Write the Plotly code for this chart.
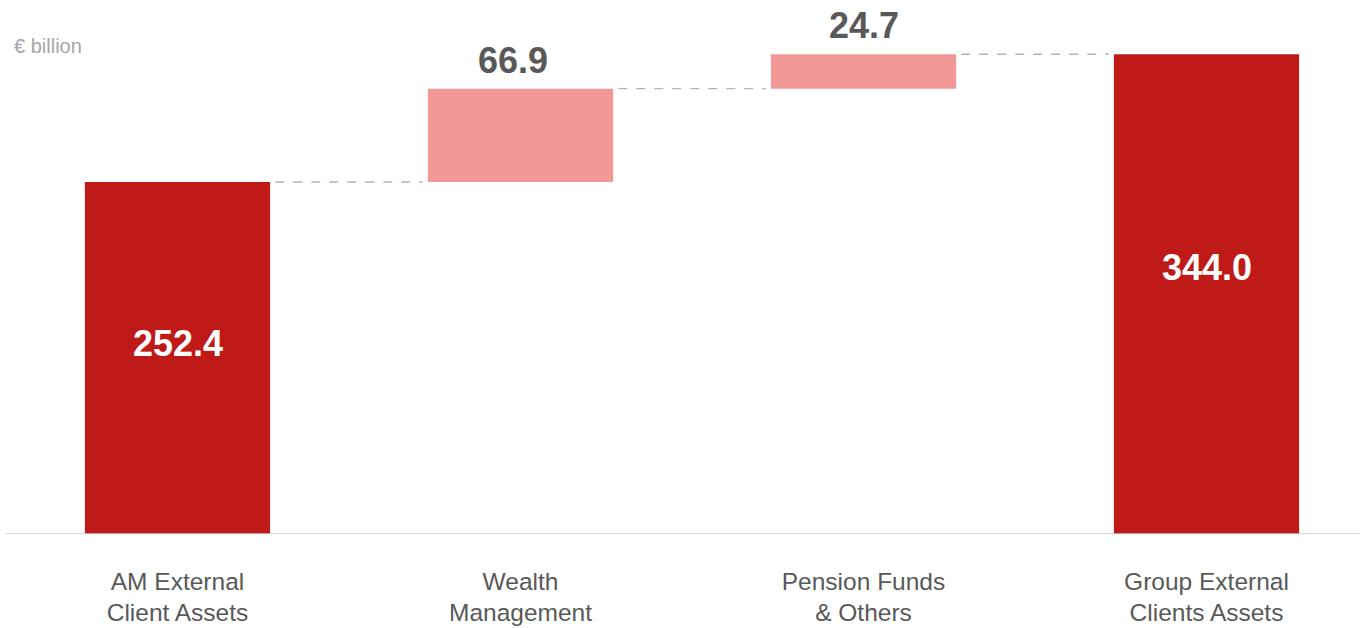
import plotly.graph_objects as go

# Data (€ billion)
categories = ["AM External<br>Client Assets", "Wealth<br>Management",
              "Pension Funds<br>& Others", "Group External<br>Clients Assets"]
values = [252.4, 66.9, 24.7, 344.0]
measures = ["absolute", "relative", "relative", "total"]
labels = ["252.4", "66.9", "24.7", "344.0"]

DARK_RED = "#C01A18"
LIGHT_RED = "#F29997"
TEXT_GREY = "#595959"
FONT = "Liberation Sans, Arial, sans-serif"

BAR_W = 0.54
GAP = 0.015

fig = go.Figure()
fig.add_trace(go.Waterfall(
    x=list(range(len(categories))),
    y=values,
    measure=measures,
    width=BAR_W,
    totals=dict(marker=dict(color=DARK_RED)),
    increasing=dict(marker=dict(color=LIGHT_RED)),
    decreasing=dict(marker=dict(color=LIGHT_RED)),
    connector=dict(visible=False),
    showlegend=False,
    hoverinfo="skip",
))

# running levels for connectors and label placement
levels = []
running = 0.0
for v, m in zip(values, measures):
    if m == "absolute" or m == "total":
        base, top = 0.0, v
        running = v
    else:
        base, top = running, running + v
        running = top
    levels.append((base, top))

# dashed connectors between bar tops
for i in range(len(values) - 1):
    y_level = levels[i][1]
    fig.add_shape(type="line", xref="x", yref="y",
                  x0=i + BAR_W / 2 + GAP, x1=i + 1 - BAR_W / 2 - GAP,
                  y0=y_level, y1=y_level,
                  line=dict(color="#B4B4B4", width=1.3, dash="dash"))

# value labels
for i, (m, lab) in enumerate(zip(measures, labels)):
    base, top = levels[i]
    if m in ("absolute", "total"):
        fig.add_annotation(x=i, y=(base + top) / 2, text=f"<b>{lab}</b>",
                           showarrow=False, yshift=15 if i == 0 else 27,
                           font=dict(family=FONT, size=36, color="white"))
    else:
        fig.add_annotation(x=i, y=top, text=f"<b>{lab}</b>", yanchor="bottom",
                           showarrow=False, yshift=6, xshift=-8 if i == 1 else 0,
                           font=dict(family=FONT, size=36, color=TEXT_GREY))

# baseline
fig.add_shape(type="line", xref="x", yref="y", x0=-0.5, x1=3.6, y0=0, y1=0,
              line=dict(color="#C8C8C8", width=1.5))

fig.add_annotation(xref="paper", yref="paper", x=0.0085, y=1 - 46 / 534,
                   xanchor="left", yanchor="middle", showarrow=False,
                   text="€ billion", font=dict(family=FONT, size=20, color="#A6A6A6"))

fig.update_layout(
    width=1360, height=628,
    margin=dict(l=0, r=0, t=0, b=94),
    plot_bgcolor="white", paper_bgcolor="white",
    font=dict(family=FONT),
    xaxis=dict(range=[-177.5 / 343, (1360 - 177.5) / 343],
               tickmode="array", tickvals=list(range(len(categories))),
               ticktext=categories, showgrid=False, zeroline=False,
               showline=False, ticks="", ticklabelstandoff=30,
               automargin=False,
               tickfont=dict(family=FONT, size=24.5, color=TEXT_GREY)),
    yaxis=dict(range=[0, 534 / 1.3946], visible=False, showgrid=False,
               zeroline=False, automargin=False),
)

fig.write_html("out.html")
